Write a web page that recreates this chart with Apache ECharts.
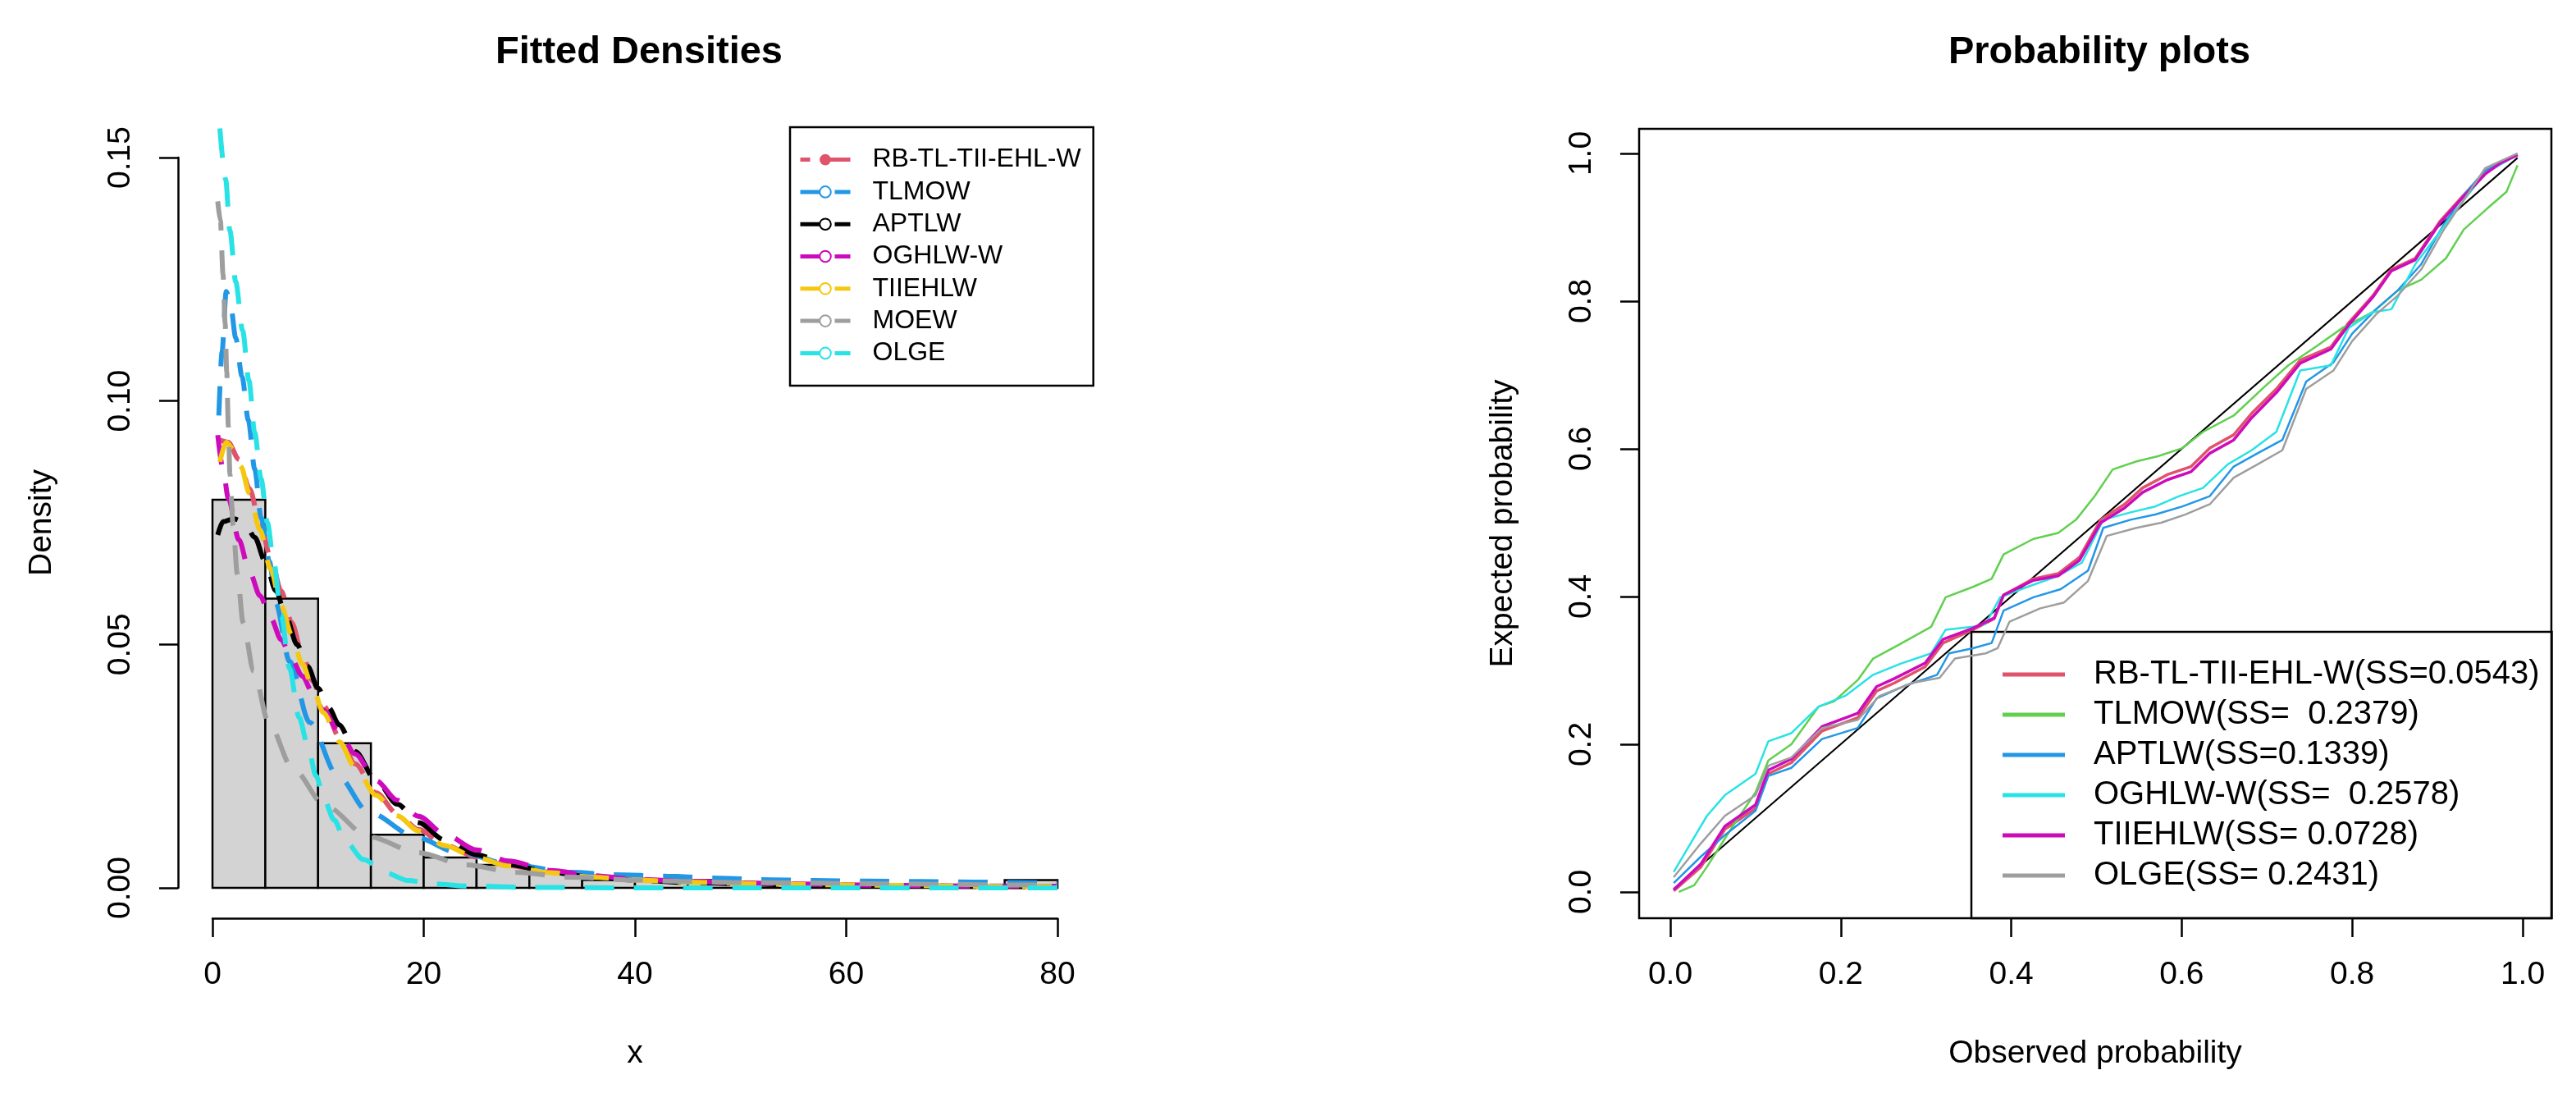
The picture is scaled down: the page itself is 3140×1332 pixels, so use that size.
<!DOCTYPE html>
<html><head><meta charset="utf-8">
<script src="https://cdn.jsdelivr.net/npm/echarts@6/dist/echarts.min.js"></script>
<style>html,body{margin:0;padding:0;background:#fff}#c{width:3140px;height:1332px}</style>
</head><body><div id="c"></div>
<script>
// ---------- Left panel: histogram ----------
const binStarts = [0, 5, 10, 15, 20, 25, 30, 35, 40, 45, 50, 55, 60, 65, 70, 75];
const binWidth = 5;
const binDensity = [0.0797, 0.0594, 0.0297, 0.0109, 0.00625, 0.0047, 0.0031, 0.0016, 0.0016, 0.0016, 0, 0, 0, 0, 0, 0.0016];
const densXTicks = [0, 20, 40, 60, 80];
const densYTicks = [0, 0.05, 0.10, 0.15];

// ---------- Left panel: fitted density curves [x, density] ----------
const densNames = ['RB-TL-TII-EHL-W', 'TLMOW', 'APTLW', 'OGHLW-W', 'TIIEHLW', 'MOEW', 'OLGE'];
const densColors = ['#DF536B', '#2297E6', '#000000', '#CD0BBC', '#F5C710', '#9E9E9E', '#28E2E5'];
const densRB = [[0.7,0.092],[1.5,0.0915],[2.5,0.088],[3.5,0.082],[4.5,0.075],[5.5,0.068],[6.5,0.061],[7.5,0.0545],[8.5,0.048],[9.5,0.0425],[10.5,0.0375],[12,0.031],[13.5,0.0255],[15.5,0.0195],[17.5,0.0152],[19.5,0.012],[22,0.0088],[25,0.0063],[28,0.0046],[32,0.0032],[36,0.0023],[40,0.0017],[45,0.0013],[50,0.001],[55,0.0008],[60,0.0006],[65,0.0005],[70,0.0004],[75,0.0003],[80,0.0003]];
const densTLMOW = [[0.6,0.097],[0.9,0.110],[1.3,0.1225],[1.7,0.120],[2.2,0.113],[2.8,0.105],[3.4,0.096],[4.0,0.086],[4.6,0.076],[5.4,0.067],[6.0,0.0585],[7.3,0.0465],[9.2,0.034],[11.8,0.0232],[14.8,0.0155],[19.3,0.0104],[23,0.0074],[28.7,0.0046],[34,0.0032],[38,0.0027],[43,0.0024],[48,0.002],[52,0.0017],[57,0.0015],[62,0.0014],[67,0.0013],[72,0.0012],[76,0.0011],[80,0.001]];
const densAPTLW = [[0.5,0.0725],[1.0,0.0752],[2.0,0.0758],[3.0,0.0752],[4.0,0.072],[5.0,0.067],[6.0,0.061],[7.0,0.0555],[8.0,0.050],[9.0,0.0455],[10,0.041],[11,0.037],[12,0.0335],[13.5,0.028],[15.5,0.022],[17.5,0.0172],[19.5,0.0134],[22,0.0098],[25,0.0068],[28,0.0048],[32,0.0032],[36,0.0022],[40,0.0016],[45,0.0011],[50,0.0008],[55,0.0006],[60,0.0005],[65,0.0004],[70,0.0003],[75,0.0003],[80,0.0002]];
const densOGHLW = [[0.5,0.093],[1.0,0.086],[1.5,0.080],[2.5,0.0715],[3.5,0.065],[4.5,0.060],[5.5,0.0555],[6.5,0.051],[7.5,0.047],[8.5,0.0435],[9.5,0.040],[10.5,0.0365],[12,0.032],[13.5,0.0275],[15.5,0.022],[17.5,0.018],[19.5,0.0147],[22,0.011],[25,0.0078],[28,0.0055],[32,0.0036],[36,0.0025],[40,0.0018],[45,0.0013],[50,0.001],[55,0.0008],[60,0.0006],[65,0.0005],[70,0.0004],[75,0.0004],[80,0.0003]];
const densTIIEHLW = [[0.7,0.0875],[1.3,0.0915],[2.0,0.090],[2.7,0.0865],[3.5,0.081],[4.5,0.0735],[5.5,0.0655],[6.5,0.058],[7.5,0.052],[8.5,0.046],[9.5,0.041],[10.5,0.036],[12,0.030],[13.5,0.0248],[15.5,0.019],[17.5,0.0148],[19.5,0.0117],[22,0.0087],[25,0.0062],[28,0.0045],[32,0.0031],[36,0.0022],[40,0.0016],[45,0.0012],[50,0.0009],[55,0.0007],[60,0.0006],[65,0.0005],[70,0.0004],[75,0.0003],[80,0.0003]];
const densMOEW = [[0.5,0.141],[0.75,0.137],[1.0,0.126],[1.2,0.116],[1.35,0.106],[1.5,0.095],[1.65,0.085],[1.95,0.0745],[2.35,0.0645],[2.9,0.0545],[3.9,0.0445],[5.3,0.034],[7.6,0.0245],[10.7,0.0168],[14.8,0.0105],[19.5,0.0072],[24,0.0047],[28.7,0.0032],[34,0.0022],[40,0.0016],[45,0.0013],[50,0.0011],[55,0.001],[60,0.0009],[65,0.0008],[70,0.0007],[75,0.0006],[80,0.0006]];
const densOLGE = [[0.7,0.156],[1.25,0.1455],[1.65,0.135],[2.2,0.1245],[2.85,0.1145],[3.45,0.1042],[4.0,0.0935],[4.6,0.084],[5.2,0.075],[5.8,0.067],[6.5,0.056],[7.3,0.045],[8.2,0.035],[9.0,0.0295],[9.8,0.023],[10.6,0.018],[11.5,0.014],[12.6,0.0095],[14.3,0.0058],[16.5,0.003],[18.5,0.0015],[21,0.0008],[24,0.0004],[30,0.0001],[40,0],[50,0],[60,0],[70,0],[80,0]];
const densData = [densRB, densTLMOW, densAPTLW, densOGHLW, densTIIEHLW, densMOEW, densOLGE];

// ---------- Right panel: probability plots [observed, expected] ----------
const ppNames = ['RB-TL-TII-EHL-W(SS=0.0543)', 'TLMOW(SS=  0.2379)', 'APTLW(SS=0.1339)', 'OGHLW-W(SS=  0.2578)', 'TIIEHLW(SS= 0.0728)', 'OLGE(SS= 0.2431)'];
const ppColors = ['#DF536B', '#61D04F', '#2297E6', '#28E2E5', '#CD0BBC', '#9E9E9E'];
const ppWidths = [3.5, 2.5, 2.5, 2.5, 3.5, 2.5];
const ppTicks = [0, 0.2, 0.4, 0.6, 0.8, 1.0];
const ppRB = [[0.004,0.0015],[0.036,0.034],[0.064,0.085],[0.1,0.113],[0.115,0.16],[0.142,0.175],[0.178,0.218],[0.22,0.236],[0.242,0.272],[0.263,0.283],[0.299,0.305],[0.32,0.337],[0.355,0.355],[0.38,0.37],[0.391,0.402],[0.426,0.424],[0.455,0.431],[0.48,0.453],[0.505,0.504],[0.533,0.525],[0.554,0.547],[0.583,0.565],[0.611,0.576],[0.633,0.601],[0.661,0.619],[0.682,0.648],[0.711,0.681],[0.739,0.72],[0.775,0.738],[0.796,0.771],[0.824,0.807],[0.846,0.843],[0.874,0.858],[0.903,0.908],[0.931,0.944],[0.956,0.973],[0.974,0.988],[0.994,0.998]];
const ppTLMOW = [[0.01,0.0],[0.028,0.009],[0.043,0.034],[0.071,0.085],[0.1,0.135],[0.115,0.178],[0.142,0.2],[0.174,0.251],[0.192,0.258],[0.22,0.287],[0.238,0.316],[0.267,0.334],[0.306,0.359],[0.323,0.399],[0.355,0.413],[0.377,0.424],[0.391,0.457],[0.426,0.478],[0.455,0.486],[0.476,0.504],[0.498,0.536],[0.519,0.572],[0.547,0.583],[0.572,0.59],[0.601,0.601],[0.625,0.623],[0.661,0.645],[0.697,0.684],[0.725,0.713],[0.757,0.738],[0.789,0.764],[0.824,0.785],[0.853,0.814],[0.881,0.829],[0.91,0.858],[0.931,0.897],[0.959,0.926],[0.981,0.948],[0.994,0.984]];
const ppAPTLW = [[0.004,0.012],[0.036,0.048],[0.064,0.077],[0.1,0.11],[0.115,0.157],[0.142,0.168],[0.178,0.207],[0.22,0.222],[0.242,0.262],[0.277,0.28],[0.313,0.294],[0.327,0.323],[0.355,0.33],[0.377,0.337],[0.391,0.381],[0.426,0.399],[0.458,0.41],[0.49,0.435],[0.508,0.493],[0.54,0.504],[0.569,0.511],[0.601,0.522],[0.633,0.536],[0.661,0.576],[0.689,0.594],[0.718,0.612],[0.746,0.691],[0.778,0.717],[0.8,0.756],[0.828,0.789],[0.853,0.814],[0.881,0.85],[0.906,0.901],[0.931,0.944],[0.956,0.977],[0.994,0.998]];
const ppOGHLW = [[0.004,0.027],[0.028,0.074],[0.043,0.103],[0.064,0.131],[0.1,0.16],[0.115,0.204],[0.142,0.215],[0.174,0.251],[0.206,0.266],[0.238,0.294],[0.27,0.309],[0.306,0.323],[0.323,0.355],[0.355,0.359],[0.37,0.363],[0.387,0.399],[0.419,0.413],[0.455,0.428],[0.483,0.446],[0.508,0.504],[0.54,0.514],[0.569,0.522],[0.597,0.536],[0.625,0.547],[0.654,0.579],[0.682,0.598],[0.711,0.623],[0.739,0.706],[0.775,0.713],[0.796,0.764],[0.824,0.785],[0.846,0.789],[0.874,0.85],[0.903,0.894],[0.931,0.937],[0.956,0.973],[0.994,0.998]];
const ppTIIEHLW = [[0.004,0.003],[0.036,0.038],[0.064,0.089],[0.1,0.118],[0.115,0.165],[0.142,0.18],[0.178,0.224],[0.22,0.242],[0.242,0.278],[0.263,0.289],[0.299,0.31],[0.32,0.342],[0.355,0.357],[0.38,0.371],[0.391,0.402],[0.426,0.422],[0.455,0.428],[0.48,0.449],[0.505,0.5],[0.533,0.52],[0.554,0.541],[0.583,0.558],[0.611,0.569],[0.633,0.594],[0.661,0.612],[0.682,0.642],[0.711,0.676],[0.739,0.716],[0.775,0.735],[0.796,0.768],[0.824,0.805],[0.846,0.841],[0.874,0.856],[0.903,0.906],[0.931,0.942],[0.956,0.972],[0.974,0.987],[0.994,0.998]];
const ppOLGE = [[0.004,0.02],[0.036,0.066],[0.064,0.103],[0.1,0.131],[0.115,0.171],[0.142,0.182],[0.178,0.222],[0.22,0.233],[0.245,0.265],[0.284,0.283],[0.316,0.29],[0.334,0.316],[0.37,0.323],[0.384,0.33],[0.398,0.366],[0.434,0.384],[0.462,0.392],[0.49,0.421],[0.512,0.482],[0.547,0.493],[0.576,0.5],[0.604,0.511],[0.633,0.525],[0.661,0.561],[0.689,0.579],[0.718,0.598],[0.746,0.681],[0.778,0.706],[0.8,0.746],[0.828,0.782],[0.853,0.807],[0.881,0.843],[0.906,0.894],[0.931,0.937],[0.956,0.98],[0.994,1.0]];
const ppData = [ppRB, ppTLMOW, ppAPTLW, ppOGHLW, ppTIIEHLW, ppOLGE];
const ppDiagonal = [[0.004, 0.004], [0.994, 0.994]];

const FONT = 'Liberation Sans';
const chart = echarts.init(document.getElementById('c'), null, {renderer: 'canvas'});

const series = [];
series.push({
  type: 'custom', xAxisIndex: 0, yAxisIndex: 0, z: 1,
  data: binStarts.map((s, i) => [s, s + binWidth, binDensity[i]]),
  encode: {x: [0, 1], y: 2},
  renderItem: (params, api) => {
    const p0 = api.coord([api.value(0), api.value(2)]);
    const p1 = api.coord([api.value(1), 0]);
    return {type: 'rect', shape: {x: p0[0], y: p0[1], width: p1[0] - p0[0], height: p1[1] - p0[1]},
      style: {fill: '#D3D3D3', stroke: '#000', lineWidth: 2.5}};
  }
});
densNames.forEach((n, i) => {
  series.push({
    name: n, type: 'line', xAxisIndex: 0, yAxisIndex: 0, z: 3 + i,
    data: densData[i], showSymbol: false, symbol: i === 0 ? 'circle' : 'emptyCircle',
    smooth: 0.3, smoothMonotone: 'x', clip: false, silent: true,
    lineStyle: {color: densColors[i], width: 6, type: [36, 24]},
    itemStyle: {color: densColors[i]}
  });
});
ppNames.forEach((n, i) => {
  series.push({
    name: n, type: 'line', xAxisIndex: 1, yAxisIndex: 1, z: 3 + i,
    data: ppData[i], showSymbol: false, symbol: 'none', silent: true,
    lineStyle: {color: ppColors[i], width: ppWidths[i]},
    itemStyle: {color: ppColors[i]}
  });
});
series.push({
  type: 'line', xAxisIndex: 1, yAxisIndex: 1, z: 2, data: ppDiagonal, showSymbol: false, symbol: 'none', silent: true,
  lineStyle: {color: '#000', width: 2}
});

const axisText = {color: '#000', fontFamily: FONT, fontSize: 39};
const option = {
  animation: false,
  backgroundColor: '#fff',
  title: [
    {text: 'Fitted Densities', left: 774, top: 36, textAlign: 'center',
     textStyle: {fontFamily: FONT, fontWeight: 'bold', fontSize: 47, color: '#000'}},
    {text: 'Probability plots', left: 2554, top: 36, textAlign: 'center',
     textStyle: {fontFamily: FONT, fontWeight: 'bold', fontSize: 47, color: '#000'}}
  ],
  grid: [
    {left: 259, right: 1851, top: 192, bottom: 250},
    {left: 1998, right: 30, top: 157, bottom: 213, show: true, borderColor: '#000', borderWidth: 2.5, backgroundColor: 'transparent'}
  ],
  xAxis: [
    {gridIndex: 0, type: 'value', min: densXTicks[0], max: densXTicks[densXTicks.length - 1], interval: 20, offset: 37,
     name: 'x', nameLocation: 'middle', nameGap: 146, nameTextStyle: axisText,
     axisLine: {show: true, onZero: false, lineStyle: {color: '#000', width: 2.5}},
     axisTick: {show: true, length: 23, lineStyle: {color: '#000', width: 2.5}},
     axisLabel: Object.assign({margin: 50}, axisText), splitLine: {show: false}},
    {gridIndex: 1, type: 'value', min: -0.0366, max: 1.0337,
     name: 'Observed probability', nameLocation: 'middle', nameGap: 146, nameTextStyle: axisText,
     axisLine: {show: false, onZero: false},
     axisTick: {show: true, length: 23, customValues: ppTicks, lineStyle: {color: '#000', width: 2.5}},
     axisLabel: Object.assign({margin: 50, customValues: ppTicks, formatter: v => v.toFixed(1)}, axisText), splitLine: {show: false}}
  ],
  yAxis: [
    {gridIndex: 0, type: 'value', min: densYTicks[0], max: densYTicks[densYTicks.length - 1], interval: 0.05, offset: 42,
     name: 'Density', nameLocation: 'middle', nameGap: 146, nameRotate: 90, nameTextStyle: axisText,
     axisLine: {show: true, onZero: false, lineStyle: {color: '#000', width: 2.5}},
     axisTick: {show: true, length: 23, lineStyle: {color: '#000', width: 2.5}},
     axisLabel: Object.assign({margin: 50, rotate: 90, formatter: v => v.toFixed(2)}, axisText), splitLine: {show: false}},
    {gridIndex: 1, type: 'value', min: -0.0356, max: 1.0333,
     name: 'Expected probability', nameLocation: 'middle', nameGap: 146, nameRotate: 90, nameTextStyle: axisText,
     axisLine: {show: false, onZero: false},
     axisTick: {show: true, length: 23, customValues: ppTicks, lineStyle: {color: '#000', width: 2.5}},
     axisLabel: Object.assign({margin: 50, rotate: 90, customValues: ppTicks, formatter: v => v.toFixed(1)}, axisText), splitLine: {show: false}}
  ],
  legend: [
    {data: densNames.map((n, i) => ({name: n, lineStyle: {type: i === 0 ? [12, 12, 40, 100] : [36, 6, 20, 100]}})),
     orient: 'vertical', left: 963, top: 155, selectedMode: false,
     itemWidth: 61, itemHeight: 17, itemGap: 7.3,
     lineStyle: {width: 5},
     padding: [23.6, 15, 23.6, 10], borderColor: '#000', borderWidth: 2.5, backgroundColor: 'transparent',
     textStyle: {fontFamily: FONT, fontSize: 32, lineHeight: 32, color: '#000', padding: [0, 0, 0, 22]}},
    {data: ppNames, orient: 'vertical', left: 2403, top: 770, selectedMode: false, icon: 'rect',
     itemWidth: 76, itemHeight: 5, itemGap: 9,
     padding: [32, 15, 32, 38], borderColor: '#000', borderWidth: 2.5, backgroundColor: 'transparent',
     textStyle: {fontFamily: FONT, fontSize: 40, lineHeight: 40, color: '#000', padding: [0, 0, 0, 30]}}
  ],
  series: series
};
chart.setOption(option);
</script></body></html>
